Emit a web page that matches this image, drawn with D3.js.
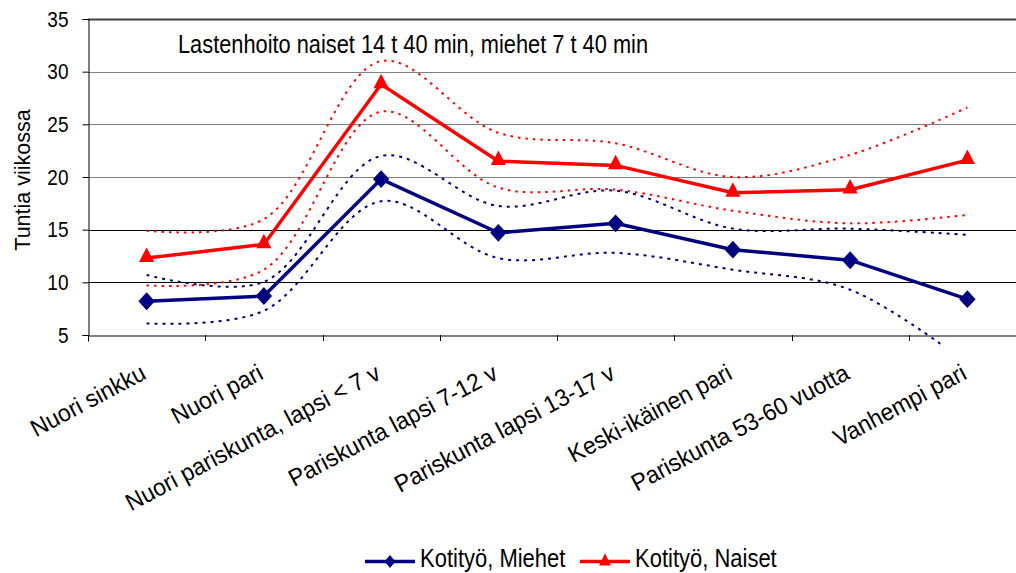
<!DOCTYPE html>
<html><head><meta charset="utf-8">
<script src="https://cdn.jsdelivr.net/npm/d3@7"></script>
<style>
body{margin:0;background:#fff;}
svg{display:block;font-family:"Liberation Sans",Arial,sans-serif;}
</style></head>
<body><svg id="c" width="1016" height="573"></svg>
<script>
const categories = ["Nuori sinkku","Nuori pari","Nuori pariskunta, lapsi < 7 v","Pariskunta lapsi 7-12 v","Pariskunta lapsi 13-17 v","Keski-ikäinen pari","Pariskunta 53-60 vuotta","Vanhempi pari"];
const miehet = [8.2, 8.7, 19.8, 14.7, 15.6, 13.1, 12.1, 8.4];
const naiset = [12.3, 13.6, 28.8, 21.5, 21.1, 18.5, 18.8, 21.6];
const miehetUpper = [10.7, 10.05, 22.0, 17.25, 18.7, 15.1, 15.1, 14.5];
const miehetLower = [6.1, 7.3, 17.7, 12.3, 12.8, 11.2, 9.3, 2.3];
const naisetUpper = [14.9, 16.0, 31.0, 24.2, 23.2, 20.0, 22.1, 26.6];
const naisetLower = [9.7, 11.2, 26.2, 19.0, 18.8, 16.8, 15.6, 16.4];
const yTicks = [5, 10, 15, 20, 25, 30, 35];
const seriesNames = ["Kotityö, Miehet", "Kotityö, Naiset"];
const annotation = "Lastenhoito naiset 14 t 40 min, miehet 7 t 40 min";
const yTitle = "Tuntia viikossa";

const BLUE = "#000080", RED = "#ff0000";
const SY = 1.15; // vertical stretch of text, as in the reference
const svg = d3.select("#c");
const x = d3.scaleBand().domain(categories).range([88, 1026]);
const cx = c => x(c) + x.bandwidth() / 2;
const y = d3.scaleLinear().domain([5, 35]).range([335, 19]);

// gridlines
svg.append("g").selectAll("line").data(yTicks.filter(t => t > 5)).join("line")
  .attr("x1", 88).attr("x2", 1016)
  .attr("y1", d => Math.round(y(d)) + 0.5).attr("y2", d => Math.round(y(d)) + 0.5)
  .attr("stroke", d => d === 35 ? "#404040" : (d >= 20 ? "#808080" : "#000"))
  .attr("stroke-width", d => d === 35 ? 2 : 1);

// y axis
const yAxis = svg.append("g").attr("transform", "translate(88.5,0)")
  .call(d3.axisLeft(y).tickValues(yTicks).tickSize(6).tickPadding(14));
yAxis.select(".domain").attr("stroke", "#000");
yAxis.selectAll(".tick line").attr("stroke", "#000");
yAxis.selectAll("text").attr("font-size", 19).attr("fill", "#000")
  .attr("font-family", "Liberation Sans, Arial, sans-serif")
  .attr("transform", `scale(1,${SY})`).attr("dy", "0.33em");

// x axis
const xAxis = svg.append("g").attr("transform", "translate(0,335.5)")
  .call(d3.axisBottom(x).tickSize(6).tickFormat(""));
xAxis.select(".domain").attr("stroke", "#000");
xAxis.selectAll(".tick").remove();
svg.append("g").selectAll("line").data(d3.range(categories.length + 1)).join("line")
  .attr("x1", i => Math.round(88 + i * x.step()) + 0.5)
  .attr("x2", i => Math.round(88 + i * x.step()) + 0.5)
  .attr("y1", 335).attr("y2", 341).attr("stroke", "#000");

// x labels
svg.append("g").selectAll("text").data(categories).join("text")
  .attr("transform", d => `translate(${cx(d) + 1},378) rotate(-28) scale(1,1.05)`)
  .attr("text-anchor", "end")
  .attr("font-size", 23).attr("fill", "#000").text(d => d);

// y title
svg.append("text").attr("transform", "translate(30,180) rotate(-90)")
  .attr("text-anchor", "middle").attr("font-size", 21.5).attr("fill", "#000").text(yTitle);

// annotation
svg.append("text").attr("transform", `translate(178,53) scale(1,${SY})`).attr("font-size", 22)
  .attr("textLength", 470).attr("lengthAdjust", "spacingAndGlyphs").attr("fill", "#000").text(annotation);

// clip
svg.append("clipPath").attr("id", "clip").append("rect")
  .attr("x", 88).attr("y", 0).attr("width", 930).attr("height", 346);

const plot = svg.append("g").attr("clip-path", "url(#clip)");
const smooth = d3.line().x((d, i) => cx(categories[i])).y(d => y(d)).curve(d3.curveCatmullRom.alpha(0.5));
const straight = d3.line().x((d, i) => cx(categories[i])).y(d => y(d));

[[naisetUpper, RED, "2.5,5"], [naisetLower, RED, "2.5,5"], [miehetUpper, BLUE, "3,5"], [miehetLower, BLUE, "3,5"]]
  .forEach(([arr, col, dash]) => {
    plot.append("path").attr("d", smooth(arr)).attr("fill", "none")
      .attr("stroke", col).attr("stroke-width", 2).attr("stroke-dasharray", dash);
  });

plot.append("path").attr("d", straight(miehet)).attr("fill", "none").attr("stroke", BLUE).attr("stroke-width", 3.5);
plot.append("path").attr("d", straight(naiset)).attr("fill", "none").attr("stroke", RED).attr("stroke-width", 3.5);

const diamond = d3.symbol().type(d3.symbolDiamond2);
const tri = d3.symbol().type(d3.symbolTriangle);
plot.append("g").selectAll("path").data(miehet).join("path")
  .attr("transform", (d, i) => `translate(${cx(categories[i])},${y(d)}) scale(1.15,1.25)`)
  .attr("d", diamond.size(130)).attr("fill", BLUE);
plot.append("g").selectAll("path").data(naiset).join("path")
  .attr("transform", (d, i) => `translate(${cx(categories[i])},${y(d) - 1}) scale(1,1.1)`)
  .attr("d", tri.size(100)).attr("fill", RED);

// legend
const leg = svg.append("g");
[[365, BLUE, diamond.size(75), 420, seriesNames[0]], [580, RED, tri.size(60), 635, seriesNames[1]]]
  .forEach(([lx, col, sym, tx, name]) => {
    leg.append("line").attr("x1", lx).attr("x2", lx + 50).attr("y1", 561.5).attr("y2", 561.5)
      .attr("stroke", col).attr("stroke-width", 3.5);
    leg.append("path").attr("d", sym).attr("transform", `translate(${lx + 25},561.5) scale(1,1.2)`).attr("fill", col);
    leg.append("text").attr("transform", `translate(${tx},567) scale(1,${SY})`).attr("font-size", 22).attr("fill", "#000").text(name);
  });
</script></body></html>
